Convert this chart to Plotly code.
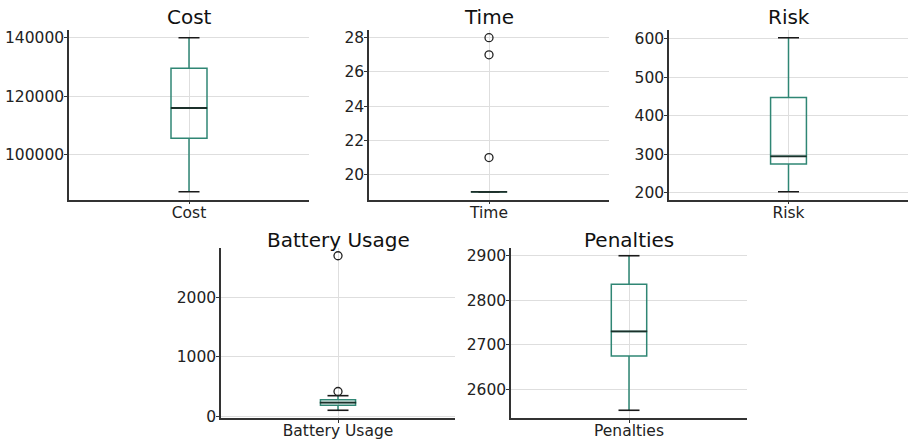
import plotly.graph_objects as go

# ---- data ----
names = ["Cost", "Time", "Risk", "Battery Usage", "Penalties"]
q1 = [105700, 19, 275, 190, 2675]
median = [116000, 19, 295, 235, 2730]
q3 = [129600, 19, 448, 280, 2836]
lower_whisker = [87400, 19, 203, 105, 2553]
upper_whisker = [140000, 19, 603, 350, 2900]
outliers = [[], [21, 27, 28], [], [420, 2700], []]
dticks = [20000, 2, 100, 1000, 100]

# ---- layout (pixel geometry of the 909x440 canvas) ----
W, H = 909, 440
px_x = [(69, 309), (369, 609), (669, 908), (221, 455), (511, 747)]
px_y = [(30, 199.5), (30, 199.5), (30, 199.5), (248, 418), (248, 418)]
title_y = [17, 17, 17, 240, 240]

teal = "#2f8674"
median_col = "#1b302a"
cap_col = "#1a1a1a"
grid_col = "#dedede"
axis_col = "#333333"
font = "DejaVu Sans"

fig = go.Figure()
for i, name in enumerate(names):
    k = "" if i == 0 else str(i + 1)
    xa, ya = "x" + k, "y" + k
    fig.add_trace(go.Box(
        x=[name], q1=[q1[i]], median=[median[i]], q3=[q3[i]],
        lowerfence=[lower_whisker[i]], upperfence=[upper_whisker[i]],
        boxpoints=False, width=0.15, whiskerwidth=0,
        line=dict(color=teal, width=1.5), fillcolor="rgba(0,0,0,0)",
        xaxis=xa, yaxis=ya, showlegend=False, hoverinfo="skip"))
    # caps
    fig.add_trace(go.Scatter(
        x=[name, name], y=[lower_whisker[i], upper_whisker[i]], mode="markers",
        marker=dict(symbol="line-ew-open", size=15, color=cap_col,
                    line=dict(color=cap_col, width=1.6)),
        xaxis=xa, yaxis=ya, showlegend=False, hoverinfo="skip"))
    # median
    fig.add_trace(go.Scatter(
        x=[name], y=[median[i]], mode="markers",
        marker=dict(symbol="line-ew-open", size=26, color=median_col,
                    line=dict(color=median_col, width=1.8)),
        xaxis=xa, yaxis=ya, showlegend=False, hoverinfo="skip"))
    # fliers
    if outliers[i]:
        fig.add_trace(go.Scatter(
            x=[name] * len(outliers[i]), y=outliers[i], mode="markers",
            marker=dict(symbol="circle-open", size=8, color="#222222",
                        line=dict(color="#222222", width=1.3)),
            xaxis=xa, yaxis=ya, showlegend=False, hoverinfo="skip"))

    vals = [lower_whisker[i], upper_whisker[i]] + outliers[i]
    lo, hi = min(vals), max(vals)
    pad = (hi - lo) * 0.05
    (x0, x1), (y0, y1) = px_x[i], px_y[i]
    common = dict(showgrid=True, gridcolor=grid_col, gridwidth=1,
                  showline=True, linecolor=axis_col, linewidth=1.5,
                  ticks="outside", ticklen=3, tickcolor=axis_col,
                  tickfont=dict(family=font, size=15.5, color="#222222"),
                  zeroline=False, fixedrange=True, automargin=False)
    fig.update_layout(**{
        ("xaxis" + k): dict(domain=[x0 / W, x1 / W], anchor=ya, type="category",
                           range=[-0.5, 0.5], ticklabelstandoff=-5, **common),
        ("yaxis" + k): dict(domain=[1 - y1 / H, 1 - y0 / H], anchor=xa,
                           range=[lo - pad, hi + pad], tick0=0, dtick=dticks[i],
                           tickformat="d", ticklabelstandoff=-3, **common),
    })
    fig.add_annotation(text=name, x=(x0 + x1) / 2 / W, y=1 - title_y[i] / H,
                       xref="paper", yref="paper", xanchor="center", yanchor="middle",
                       showarrow=False, font=dict(family=font, size=20, color="#111111"))

fig.update_layout(width=W, height=H, margin=dict(l=0, r=0, t=0, b=0),
                  paper_bgcolor="white", plot_bgcolor="white",
                  font=dict(family=font))
fig.write_html("out.html", config={"displayModeBar": False},
               post_script="document.body.style.margin='0';document.body.style.overflow='hidden';")
